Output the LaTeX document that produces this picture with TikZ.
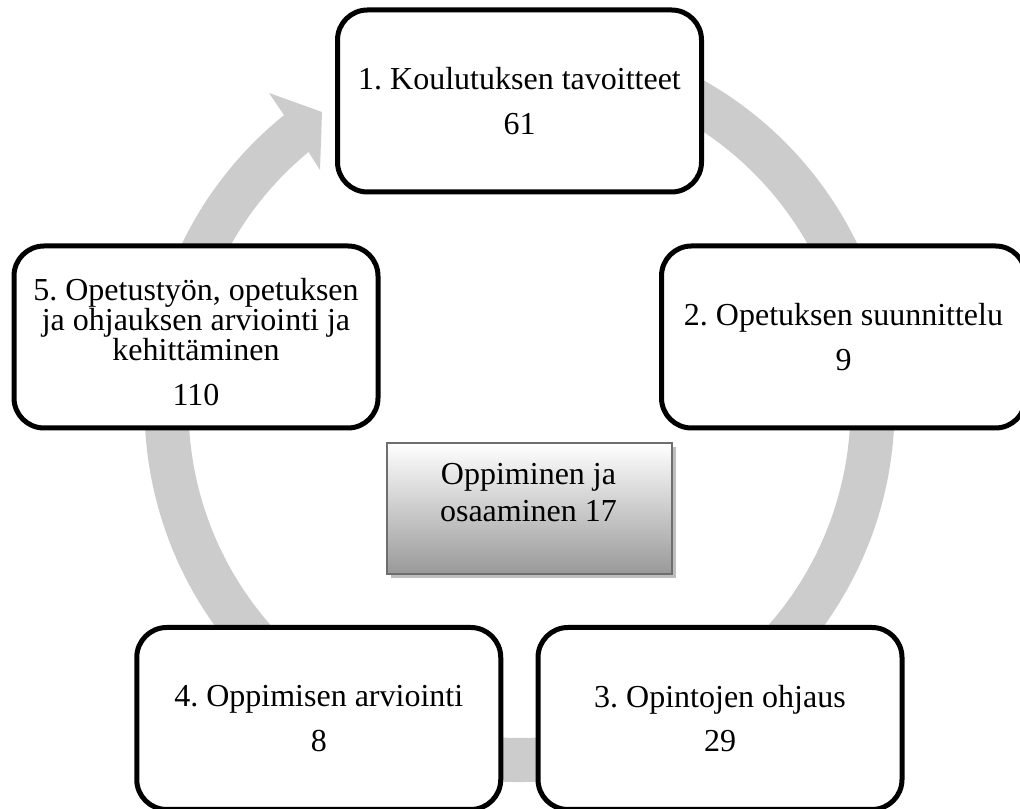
\documentclass[tikz,border=0pt]{standalone}
\usepackage{fontspec}
\setmainfont{Liberation Serif}
\usetikzlibrary{calc,shadows}
\definecolor{ringgray}{RGB}{204,204,204}
\definecolor{frameedge}{RGB}{110,110,110}
\definecolor{shadowgray}{RGB}{190,190,190}
\frenchspacing
\begin{document}
\begin{tikzpicture}[x=0.75pt,y=0.75pt,
  stagebox/.style={draw=black, line width=3.75pt, fill=white,
    rounded corners=22.5pt, minimum width=273pt, minimum height=136.5pt,
    align=center, inner sep=0pt,
    font=\fontsize{24}{22.5}\selectfont},
  corebox/.style={draw=frameedge, line width=1.5pt,
    top color=white, bottom color=black!40,
    minimum width=213.75pt, minimum height=98.25pt, inner sep=0pt,
    drop shadow={shadow xshift=3pt, shadow yshift=-3pt,
      fill=shadowgray, opacity=1}},
  coretext/.style={align=center, inner sep=0pt,
    font=\fontsize{24}{27.75}\selectfont}]
\useasboundingbox (0,0) rectangle (1020,809);
\clip (0,0) rectangle (1020,809);

% circular arrow behind the stages
\coordinate (C) at (519.5,402);
\coordinate (headout) at (269,716);
\coordinate (tip) at (322,697);
\coordinate (headin) at (320,639);
\fill[ringgray] ($(C)+(100:281.25pt)$)
  arc[start angle=100, end angle=-231.1, radius=281.25pt]
  -- (headout) -- (tip) -- (headin)
  -- ($(C)+(-230.4:248.25pt)$)
  arc[start angle=-230.4, end angle=100, radius=248.25pt] -- cycle;

% the five stages
\node[stagebox] (s1) at (519.5,708) {1. Koulutuksen tavoitteet\\[11pt]61};
\node[stagebox] (s2) at (843.5,472) {2. Opetuksen suunnittelu\\[11pt]9};
\node[stagebox] (s3) at (720,90.5) {3. Opintojen ohjaus\\[11pt]29};
\node[stagebox] (s4) at (318.75,90.5) {4. Oppimisen arviointi\\[11pt]8};
\node[stagebox] (s5) at (196,472) {\rule{0pt}{24pt}5. Opetustyön, opetuksen\\ja ohjauksen arviointi ja\\kehittäminen\\[11pt]110};

% centre box
\node[corebox] (core) at (529.5,300.5) {};
\node[coretext] (coretxt) at (528.5,316.25) {Oppiminen ja\\osaaminen 17};
\end{tikzpicture}
\end{document}
